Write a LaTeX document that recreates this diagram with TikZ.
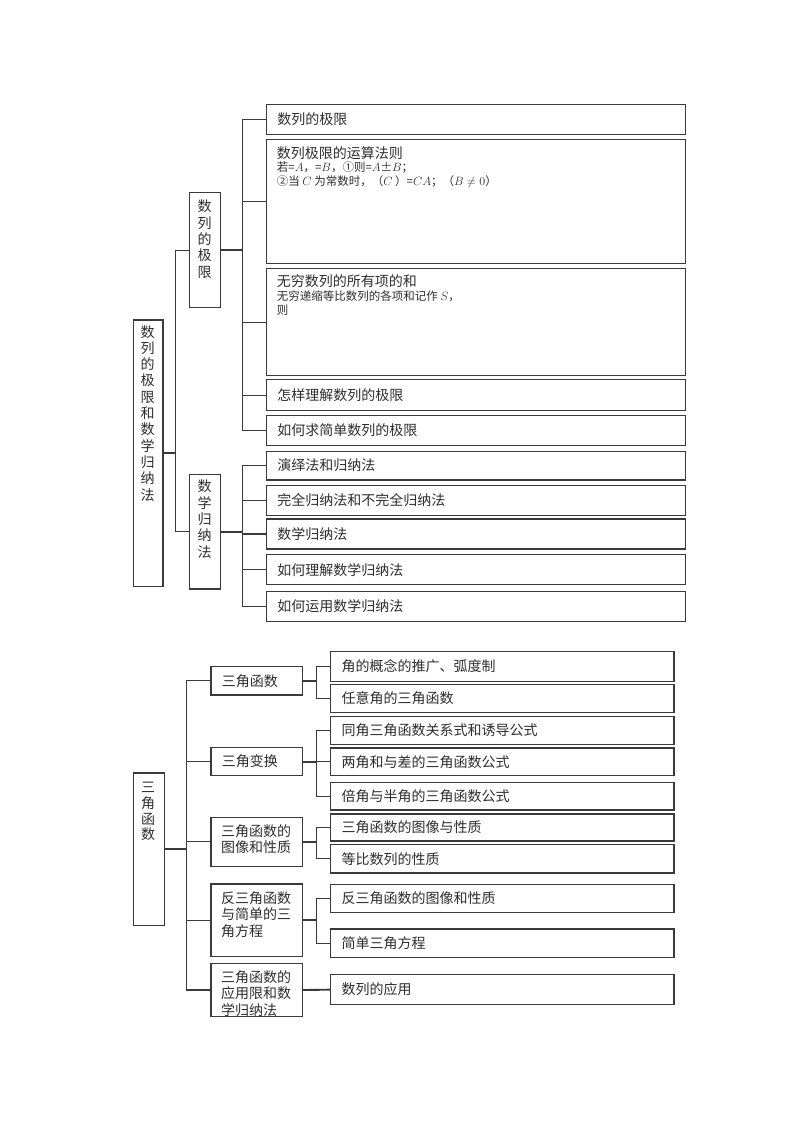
\documentclass[tikz,border=0pt]{standalone}
\usepackage{fontspec}
\setmainfont{Noto Sans CJK SC}
\usetikzlibrary{calc}
\definecolor{ln}{HTML}{3A3A3A}
\definecolor{tx}{HTML}{2E2E2E}
\begin{document}
\begin{tikzpicture}[x=1pt,y=-1pt,
  box/.style={draw=ln, line width=1.3pt, fill=white, inner sep=0pt, anchor=north west},
  leaf/.style={box, inner xsep=11pt, inner ysep=0pt, align=left, text=tx, font=\fontsize{14}{16.5}\selectfont},
  conn/.style={draw=ln, line width=1.2pt},
  strongconn/.style={draw=ln, line width=1.9pt},
  vtext/.style={align=center, inner sep=0pt, text=tx, font=\fontsize{14}{16.3}\selectfont},
  big/.style={anchor=west, inner sep=0pt, text=tx, font=\fontsize{14}{16.5}\selectfont},
  small/.style={anchor=west, inner sep=0pt, text=tx, font=\fontsize{11.5}{13.5}\selectfont},
  midtext/.style={anchor=west, align=left, inner sep=0pt, text=tx, font=\fontsize{14}{16.6}\selectfont}]
\useasboundingbox (0,0) rectangle (800,1132);

% ---------------- top section ----------------
\node[box, minimum width=29.6pt, minimum height=266.7pt] (R1) at (132.7,319.3) {};
\node[vtext] (R1t) at (147.5,413.2) {数\\列\\的\\极\\限\\和\\数\\学\\归\\纳\\法};

\node[box, minimum width=31pt, minimum height=115pt] (M1) at (189,192) {};
\node[vtext] (M1t) at (204.5,239.2) {数\\列\\的\\极\\限};
\node[box, minimum width=31pt, minimum height=114.3pt] (M2) at (189,474) {};
\node[vtext] (M2t) at (204.5,519.2) {数\\学\\归\\纳\\法};

\node[leaf, text width=397.3pt, minimum height=30pt] (A1) at (265.7,104) {数列的极限};
\node[box, minimum width=419.3pt, minimum height=124.3pt] (A2) at (265.7,138.7) {};
\node[big] (A2a) at (276.7,153) {数列极限的运算法则};
\node[small] (A2b) at (276.7,168) {若=$A$，=$B$，①则=$A$±$B$；};
\node[small] (A2c) at (276.7,182) {②当 $C$ 为常数时，（$C$ ）=$CA$；（$B\neq 0$）};
\node[box, minimum width=419.3pt, minimum height=107pt] (A3) at (265.7,268) {};
\node[big] (A3a) at (276.7,281.5) {无穷数列的所有项的和};
\node[small] (A3b) at (276.7,296.5) {无穷递缩等比数列的各项和记作 $S$，};
\node[small] (A3c) at (276.7,310.5) {则};
\node[leaf, text width=397.3pt, minimum height=31pt] (A4) at (265.7,379) {怎样理解数列的极限};
\node[leaf, text width=397.3pt, minimum height=30.5pt] (A5) at (265.7,414.5) {如何求简单数列的极限};

\node[leaf, text width=397.3pt, minimum height=28.6pt] (B1) at (265.7,450.7) {演绎法和归纳法};
\node[leaf, text width=397.3pt, minimum height=30.3pt] (B2) at (265.7,484.7) {完全归纳法和不完全归纳法};
\node[leaf, text width=397.3pt, minimum height=30pt] (B3) at (265.7,518.3) {数学归纳法};
\node[leaf, text width=397.3pt, minimum height=30pt] (B4) at (265.7,554) {如何理解数学归纳法};
\node[leaf, text width=397.3pt, minimum height=30.3pt] (B5) at (265.7,590.7) {如何运用数学归纳法};

\coordinate (t1) at (175.7,0);
\coordinate (b1) at (242.7,0);
\draw[strongconn] (R1.east) -- (R1.east -| t1);
\draw[conn] (R1.east -| t1) |- (M1.west);
\draw[conn] (R1.east -| t1) |- (M2.west);
\draw[strongconn] (M1.east) -- (M1.east -| b1);
\foreach \n in {A1,A2,A3,A4,A5} \draw[conn] (M1.east -| b1) |- (\n.west);
\draw[strongconn] (M2.east) -- (M2.east -| b1);
\foreach \n in {B1,B2,B3,B4,B5} \draw[conn] (M2.east -| b1) |- (\n.west);

% ---------------- bottom section ----------------
\node[box, minimum width=31pt, minimum height=152.7pt] (R2) at (132.7,772.3) {};
\node[vtext, font=\fontsize{14}{15.6}\selectfont] (R2t) at (148.2,811.7) {三\\角\\函\\数};

\node[leaf, text width=69.4pt, minimum height=28.3pt] (C1) at (210.3,666) {三角函数};
\node[leaf, text width=69.4pt, minimum height=28pt] (C2) at (210.3,747) {三角变换};
\node[box, minimum width=91.4pt, minimum height=49pt] (C3) at (210.3,816.7) {};
\node[midtext] (C3t) at (221,839.2) {三角函数的\\图像和性质};
\node[box, minimum width=91.4pt, minimum height=72.4pt] (C4) at (210.3,883.3) {};
\node[midtext] (C4t) at (221,914.4) {反三角函数\\与简单的三\\角方程};
\node[box, minimum width=91.4pt, minimum height=53.3pt] (C5) at (210.3,962.7) {};
\begin{scope}
\clip (C5.north west) rectangle (C5.south east);
\node[midtext] (C5t) at (221,993.3) {三角函数的\\应用限和数\\学归纳法};
\end{scope}

\node[leaf, text width=321.3pt, minimum height=30.3pt] (D1) at (330,650.7) {角的概念的推广、弧度制};
\node[leaf, text width=321.3pt, minimum height=28pt] (D2) at (330,684) {任意角的三角函数};
\node[leaf, text width=321.3pt, minimum height=28.3pt] (D3) at (330,715.7) {同角三角函数关系式和诱导公式};
\node[leaf, text width=321.3pt, minimum height=27.7pt] (D4) at (330,747.3) {两角和与差的三角函数公式};
\node[leaf, text width=321.3pt, minimum height=27.6pt] (D5) at (330,781.7) {倍角与半角的三角函数公式};
\node[leaf, text width=321.3pt, minimum height=27pt] (D6) at (330,813.3) {三角函数的图像与性质};
\node[leaf, text width=321.3pt, minimum height=28.3pt] (D7) at (330,844) {等比数列的性质};
\node[leaf, text width=321.3pt, minimum height=27.7pt] (D8) at (330,884) {反三角函数的图像和性质};
\node[leaf, text width=321.3pt, minimum height=28.4pt] (D9) at (330,928.3) {简单三角方程};
\node[leaf, text width=321.3pt, minimum height=30pt] (D10) at (330,974) {数列的应用};

\coordinate (t2) at (186.7,0);
\coordinate (b2) at (316.3,0);
\draw[strongconn] (R2.east) -- (R2.east -| t2);
\foreach \n in {C1,C2,C3,C4,C5} \draw[conn] (R2.east -| t2) |- (\n.west);
\draw[strongconn] (C1.east) -- (C1.east -| b2);
\foreach \n in {D1,D2} \draw[conn] (C1.east -| b2) |- (\n.west);
\draw[strongconn] (C2.east) -- (C2.east -| b2);
\foreach \n in {D3,D4,D5} \draw[conn] (C2.east -| b2) |- (\n.west);
\draw[strongconn] (C3.east) -- (C3.east -| b2);
\foreach \n in {D6,D7} \draw[conn] (C3.east -| b2) |- (\n.west);
\draw[strongconn] (C4.east) -- (C4.east -| b2);
\foreach \n in {D8,D9} \draw[conn] (C4.east -| b2) |- (\n.west);
\draw[strongconn] (C5.east) -- (D10.west);
\end{tikzpicture}
\end{document}
